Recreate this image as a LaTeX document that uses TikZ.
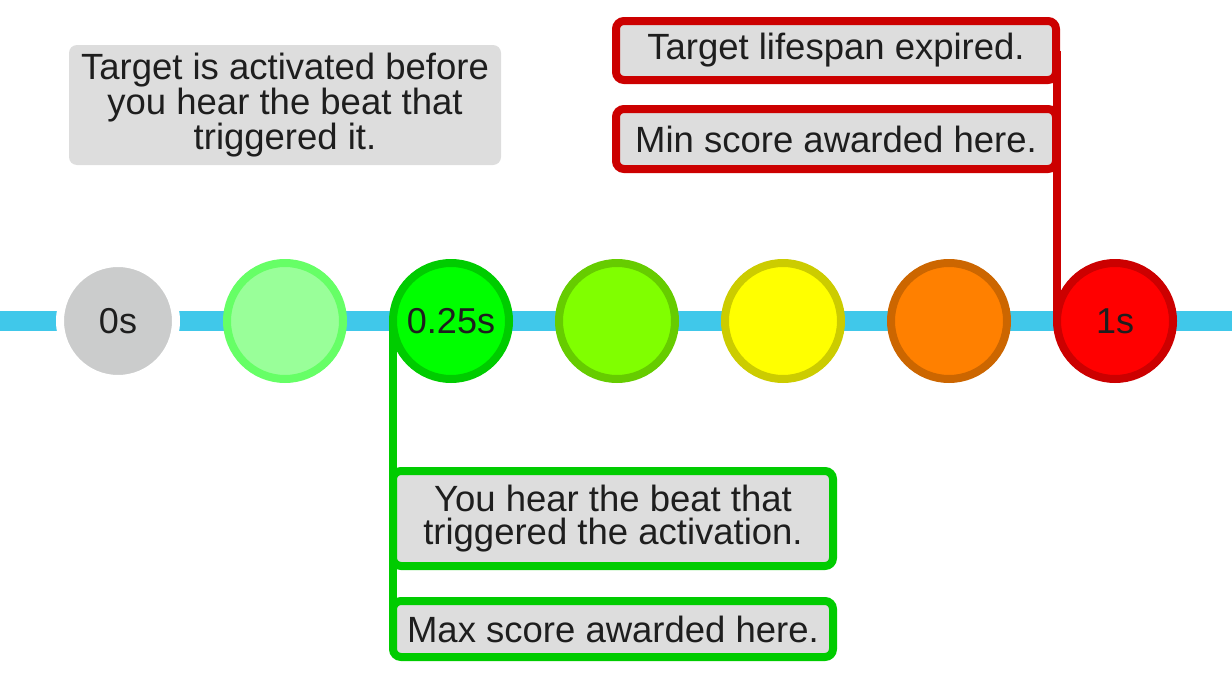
\documentclass[tikz,border=0pt]{standalone}
\usepackage{fontspec}
\setmainfont{Liberation Sans}
\usetikzlibrary{backgrounds}
\definecolor{tline}{HTML}{40C8EA}
\definecolor{boxgrey}{HTML}{DDDDDD}
\definecolor{txt}{HTML}{1E1E1E}
\definecolor{c0f}{HTML}{CBCCCC}
\definecolor{c1f}{HTML}{99FF99}\definecolor{c1s}{HTML}{66FF66}
\definecolor{c2f}{HTML}{00FF00}\definecolor{c2s}{HTML}{00CC00}
\definecolor{c3f}{HTML}{80FF00}\definecolor{c3s}{HTML}{66CC00}
\definecolor{c4f}{HTML}{FFFF00}\definecolor{c4s}{HTML}{CCCC00}
\definecolor{c5f}{HTML}{FF8000}\definecolor{c5s}{HTML}{CC6600}
\definecolor{c6f}{HTML}{FF0000}\definecolor{c6s}{HTML}{CC0000}
\tikzset{
  dot/.style={circle, minimum size=116pt, inner sep=0pt, outer sep=0pt, line width=8pt, text=txt, font=\fontsize{36}{36}\selectfont},
  notebox/.style={rectangle, rounded corners=8pt, fill=boxgrey, line width=8pt, inner sep=0pt, outer sep=0pt, minimum width=440pt, text=txt, align=center, font=\fontsize{36.5}{33}\selectfont},
  redconn/.style={draw=c6s, line width=8pt},
  greenconn/.style={draw=c2s, line width=8pt},
}
\begin{document}
\begin{tikzpicture}[x=1pt,y=-1pt]
\useasboundingbox (0,0) rectangle (1232,680);
% circles
\node[dot, fill=c0f, draw=white] (c0) at (118,321) {0s};
\node[dot, fill=c1f, draw=c1s] (c1) at (285,321) {};
\node[dot, fill=c2f, draw=c2s] (c2) at (451,321) {0.25s};
\node[dot, fill=c3f, draw=c3s] (c3) at (617,321) {};
\node[dot, fill=c4f, draw=c4s] (c4) at (783,321) {};
\node[dot, fill=c5f, draw=c5s] (c5) at (949,321) {};
\node[dot, fill=c6f, draw=c6s] (c6) at (1115,321) {1s};
% boxes
\node[notebox, minimum width=432pt, minimum height=120pt] (act) at (285,105)
  {Target is activated before\\you hear the beat that\\triggered it.};
\node[notebox, draw=c6s, minimum height=59pt] (rb1) at (836,50.5) {Target lifespan expired.};
\node[notebox, draw=c6s, minimum height=60pt] (rb2) at (836,139) {Min score awarded here.};
\node[notebox, draw=c2s, minimum height=95pt] (gb1) at (613,518.5) {You hear the beat that\\triggered the activation.};
\node[notebox, draw=c2s, minimum height=56pt] (gb2) at (613,629) {Max score awarded here.};
% timeline and connectors behind
\begin{scope}[on background layer]
\coordinate (tl0) at (0,321);
\coordinate (tl1) at (1232,321);
\draw[tline, line width=20pt] (tl0) -- (tl1);
\draw[redconn] (c6.west) -- (c6.west |- rb1.east);
\draw[greenconn] (c2.west) -- (c2.west |- gb2.west);
\end{scope}
\end{tikzpicture}
\end{document}
